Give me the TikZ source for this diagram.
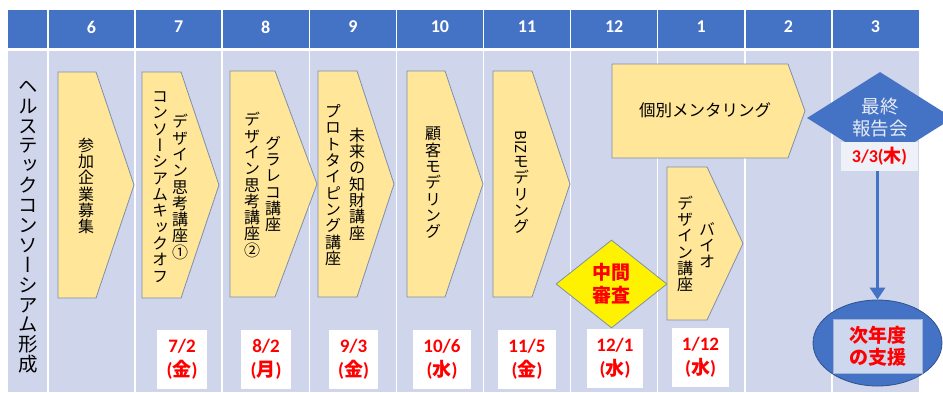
\documentclass[tikz,border=0pt]{standalone}
\usepackage{fontspec}
\setmainfont{Carlito}
\newfontfamily\jp{Noto Sans CJK JP}
\newfontfamily\vjp[RawFeature=+vert]{Noto Sans CJK JP}
\usetikzlibrary{shapes.geometric,arrows.meta}
\definecolor{hdrblue}{HTML}{4472C4}
\definecolor{bodyblue}{HTML}{CFD5EA}
\definecolor{chevfill}{HTML}{FFE699}
\definecolor{chevline}{HTML}{7F8FAA}
\definecolor{darkblue}{HTML}{2F528F}
\definecolor{labfill}{HTML}{EFF1F8}
\definecolor{innerfill}{HTML}{CDD7EE}
\definecolor{innerline}{HTML}{9FB2DC}
\definecolor{ltext}{HTML}{E8ECF5}
\makeatletter
\def\vcol@end{\vcol@stop}
\def\vcol@a#1{\def\vcol@t{#1}\ifx\vcol@t\vcol@end\else\hbox to 1em{\hss#1\hss}\expandafter\vcol@a\fi}
\newcommand\vcol[1]{$\vcenter{\baselineskip=1.02em\lineskiplimit=-100pt\lineskip=0pt\vcol@a#1\vcol@stop}$}
\makeatother
\newcommand\chevpath[5]{\draw[chev] (#1,#4) -- (#2,#4) -- (#3,{(#4+#5)/2}) -- (#2,#5) -- (#1,#5) -- cycle;}
\tikzset{
  chev/.style={fill=chevfill, draw=chevline, line width=0.8pt},
  hdrnum/.style={text=white, font=\bfseries\fontsize{18}{20}\selectfont, inner sep=0pt},
  vtext/.style={inner sep=0pt, font=\vjp\fontsize{16}{18}\selectfont},
  datebox/.style={fill=white, minimum height=59pt, inner sep=0pt, text=red, align=center,
    font=\bfseries\fontsize{19}{24}\selectfont},
  sep/.style={white, line width=1.5pt}
}
\begin{document}
\begin{tikzpicture}[x=1pt,y=-1pt]
\clip (0,0) rectangle (943,392);
\fill[white] (0,0) rectangle (943,392);
% table
\fill[hdrblue] (8,10) rectangle (919,48);
\fill[bodyblue] (8,51) rectangle (919,392);
\foreach \i in {0,...,9} {\draw[sep] ({48+87.1*\i},10) -- ({48+87.1*\i},392);}
\foreach \m [count=\i from 0] in {6,7,8,9,10,11,12,1,2,3}
  {\node[hdrnum] (h\i) at ({48+87.1*\i+43.55},27) {\m};}
% left label
\node[vtext, font=\vjp\fontsize{19.5}{21}\selectfont] (lab0) at (28,227) {\vcol{ヘルステックコンソーシアム形成}};
% chevrons
\chevpath{58}{96}{134}{72}{298}
\chevpath{142}{181}{219}{72}{298}
\chevpath{230}{275}{317}{71}{297}
\chevpath{318}{357}{394}{71}{297}
\chevpath{407}{445}{483}{71}{297}
\chevpath{493}{532}{570}{71}{297}
\chevpath{612}{788}{805}{64}{158}
\chevpath{667}{707}{743}{167}{320}
\node[vtext] (c1) at (86,186) {\vcol{参加企業募集}};
\node[vtext] (c2a) at (180,187) {\vcol{デザイン思考講座①}};
\node[vtext] (c2b) at (160,187) {\vcol{コンソーシアムキックオフ}};
\node[vtext] (c3a) at (273,184) {\vcol{グラレコ講座}};
\node[vtext] (c3b) at (252,185) {\vcol{デザイン思考講座②}};
\node[vtext] (c4a) at (357,184) {\vcol{未来の知財講座}};
\node[vtext] (c4b) at (333,185) {\vcol{プロトタイピング講座}};
\node[vtext] (c5) at (433,183) {\vcol{顧客モデリング}};
\node[inner sep=0pt, rotate=-90, font=\jp\fontsize{15}{18}\selectfont] (c6a) at (521,142) {BIZ};
\node[vtext] (c6b) at (521,195) {\vcol{モデリング}};
\node[vtext] (c8a) at (707,245) {\vcol{バイオ}};
\node[vtext] (c8b) at (685,244) {\vcol{デザイン講座}};
\node[inner sep=0pt, font=\jp\fontsize{16.5}{20}\selectfont] (c7) at (705,110) {個別メンタリング};
% mid review diamond
\node[diamond, aspect=1.26, minimum width=111pt, minimum height=88pt, inner sep=0pt,
  fill=yellow, draw=chevline, line width=0.8pt, text=red, align=center,
  font=\jp\bfseries\fontsize{19}{23}\selectfont] (mid) at (611.5,284) {中間\\審査};
% final report diamond
\node[diamond, aspect=1.59, minimum width=146pt, minimum height=92pt, inner sep=0pt,
  fill=hdrblue, text=ltext, align=center,
  font=\jp\fontsize{18.5}{22}\selectfont] (fin) at (880,118) {最終\\報告会};
\node[fill=labfill, minimum width=77pt, minimum height=29pt, inner sep=0pt, text=red,
  font=\bfseries\fontsize{18}{20}\selectfont] (fdate) at (879.5,156.5) {3/3({\jp 木})};
% next year ellipse
\node[ellipse, minimum width=129pt, minimum height=86pt, inner sep=0pt,
  fill=hdrblue, draw=darkblue, line width=0.8pt] (ell) at (877.5,343) {};
\node[fill=innerfill, draw=innerline, line width=0.6pt, minimum width=89pt, minimum height=54pt,
  inner sep=0pt, text=red, align=center, font=\jp\bfseries\fontsize{19}{22}\selectfont]
  (nxt) at (877.5,346) {次年度\\の支援};
\draw[hdrblue, line width=3.5pt, -{Triangle[width=15pt,length=12pt]}]
  (fdate.south -| ell.north) -- (ell.north);
% dates
\node[datebox, minimum width=50pt] (d7) at (182,359) {7/2\\({\jp 金})};
\node[datebox, minimum width=50pt] (d8) at (266,359) {8/2\\({\jp 月})};
\node[datebox, minimum width=49pt] (d9) at (353.5,359) {9/3\\({\jp 金})};
\node[datebox, minimum width=58pt] (d10) at (442,359) {10/6\\({\jp 水})};
\node[datebox, minimum width=58pt] (d11) at (527,359) {11/5\\({\jp 金})};
\node[datebox, minimum width=56pt] (d12) at (615,358) {12/1\\({\jp 水})};
\node[datebox, minimum width=57pt] (d1) at (700.5,357) {1/12\\({\jp 水})};
\end{tikzpicture}
\end{document}
